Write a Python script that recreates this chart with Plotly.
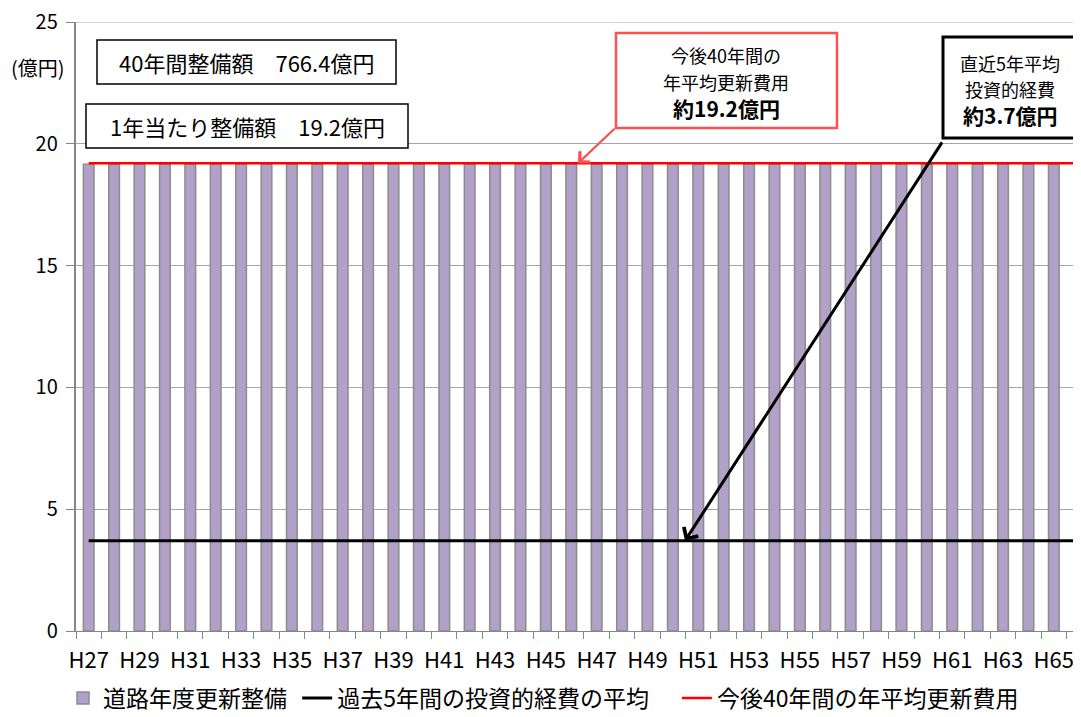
import plotly.graph_objects as go

# ---- data ----
years = ["H27", "H28", "H29", "H30", "H31", "H32", "H33", "H34", "H35", "H36",
         "H37", "H38", "H39", "H40", "H41", "H42", "H43", "H44", "H45", "H46",
         "H47", "H48", "H49", "H50", "H51", "H52", "H53", "H54", "H55", "H56",
         "H57", "H58", "H59", "H60", "H61", "H62", "H63", "H64", "H65", "H66"]
road_renewal = [19.16, 19.16, 19.16, 19.16, 19.16, 19.16, 19.16, 19.16, 19.16, 19.16,
                19.16, 19.16, 19.16, 19.16, 19.16, 19.16, 19.16, 19.16, 19.16, 19.16,
                19.16, 19.16, 19.16, 19.16, 19.16, 19.16, 19.16, 19.16, 19.16, 19.16,
                19.16, 19.16, 19.16, 19.16, 19.16, 19.16, 19.16, 19.16, 19.16, 19.16]
past5_avg = 3.7
future40_avg = 19.2
total_40y = "766.4"
per_year = "19.2"
y_max = 25

FONT = "Noto Sans CJK JP"
OFF = 8                      # page body margin offset
W, H = 1081 - OFF, 717 - OFF
ML, MR, MT, MB = 76 - OFF, 0, 22 - OFF, 86
PW, PH = W - ML - MR, H - MT - MB


def px(x):   # page pixel x -> paper
    return (x - OFF - ML) / PW


def py(y):   # page pixel y -> paper
    return (H - MB - (y - OFF)) / PH


fig = go.Figure()
fig.add_trace(go.Bar(
    x=years, y=road_renewal, name="道路年度更新整備 ",
    marker=dict(color="#B1A0C7", line=dict(color="#8C8C8C", width=1.5)),
))
fig.add_trace(go.Scatter(
    x=years, y=[past5_avg] * len(years), mode="lines",
    name="過去5年間の投資的経費の平均　",
    line=dict(color="black", width=3),
))
fig.add_trace(go.Scatter(
    x=years, y=[future40_avg] * len(years), mode="lines",
    name="今後40年間の年平均更新費用",
    line=dict(color="#FF0000", width=2.5),
))

shapes = [
    dict(type="line", xref="paper", yref="y", x0=0, x1=1, y0=y_max, y1=y_max, layer="below",
         line=dict(color="#A6A6A6", width=1)),
    dict(type="rect", xref="paper", yref="paper", x0=px(97), x1=px(396), y0=py(84), y1=py(40),
         line=dict(color="black", width=1.5), fillcolor="white"),
    dict(type="rect", xref="paper", yref="paper", x0=px(86), x1=px(408), y0=py(148), y1=py(104),
         line=dict(color="black", width=1.5), fillcolor="white"),
    dict(type="rect", xref="paper", yref="paper", x0=px(616), x1=px(837), y0=py(128), y1=py(33),
         line=dict(color="#FF5050", width=2.5), fillcolor="white"),
    dict(type="rect", xref="paper", yref="paper", x0=px(943), x1=px(1077), y0=py(138), y1=py(37),
         line=dict(color="black", width=3), fillcolor="white"),
]

ann = []


def txt(x, y, t, size, bold=False):
    ann.append(dict(xref="paper", yref="paper", x=px(x), y=py(y), text=("<b>%s</b>" % t) if bold else t,
                    showarrow=False, xanchor="center", yanchor="middle",
                    font=dict(family=FONT, size=size, color="black")))


txt(246, 62, "40年間整備額　%s億円" % total_40y, 22)
txt(247, 126, "1年当たり整備額　%s億円" % per_year, 22)
txt(726, 55, "今後40年間の", 18)
txt(726, 82, "年平均更新費用", 18)
txt(726, 108, "約%s億円" % future40_avg, 21, bold=True)
txt(1010, 63, "直近5年平均", 18)
txt(1010, 89, "投資的経費", 18)
txt(1010, 115, "約%s億円" % past5_avg, 21, bold=True)
txt(38, 67, "(億円)", 20)

# arrows
ann.append(dict(xref="paper", yref="y", x=px(578), y=future40_avg, ax=38, ay=-36,
                text="", showarrow=True, arrowhead=4, arrowsize=1.3, arrowwidth=2.2,
                arrowcolor="#FF5050"))
ann.append(dict(xref="paper", yref="y", x=px(685), y=past5_avg, ax=258, ay=-400,
                text="", showarrow=True, arrowhead=4, arrowsize=1.1, arrowwidth=3,
                arrowcolor="black"))

fig.update_layout(
    width=W, height=H,
    margin=dict(l=ML, r=MR, t=MT, b=MB, autoexpand=False),
    paper_bgcolor="white", plot_bgcolor="white",
    font=dict(family=FONT, size=22, color="black"),
    bargap=0.58,
    shapes=shapes, annotations=ann,
    showlegend=True,
    legend=dict(orientation="h", x=px(63), xanchor="left", y=py(698), yanchor="middle",
                font=dict(family=FONT, size=23, color="black"), bgcolor="rgba(0,0,0,0)"),
)
fig.update_xaxes(
    type="category", range=[-0.5, 39.07], tickson="boundaries", automargin=False,
    tickmode="linear", tick0=0, dtick=1,
    ticks="outside", ticklen=7, tickcolor="#868686", tickwidth=1, tickangle=0,
    ticklabelstep=2, ticklabelstandoff=10, ticklabeloverflow="allow",
    showgrid=False, showline=True, linecolor="#868686", linewidth=1,
    tickfont=dict(family=FONT, size=22, color="black"),
)
fig.update_yaxes(
    range=[0, y_max], tickmode="linear", tick0=0, dtick=5,
    ticks="outside", ticklen=8, tickcolor="#868686", automargin=False,
    ticksuffix=" ", ticklabeloverflow="allow",
    showgrid=True, gridcolor="#A6A6A6", gridwidth=1,
    showline=True, linecolor="#868686", linewidth=1.5, zeroline=False,
    tickfont=dict(family=FONT, size=20, color="black"),
)

fig.write_html("out.html")
